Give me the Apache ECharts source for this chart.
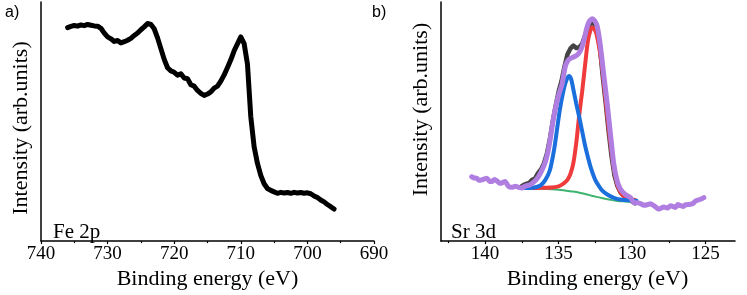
<!DOCTYPE html>
<html><head><meta charset="utf-8">
<script src="https://cdn.jsdelivr.net/npm/echarts@6/dist/echarts.min.js"></script>
<style>html,body{margin:0;padding:0;background:#fff}#c{width:747px;height:295px}</style>
</head><body><div id="c"></div>
<script>
// ---- Panel a) Fe 2p ----
const feEnergy = [736.0,735.5,735.0,734.5,734.0,733.5,733.0,732.5,732.0,731.5,731.0,730.5,730.0,729.5,729.0,728.5,728.0,727.5,727.0,726.5,726.0,725.5,725.0,724.5,724.0,723.5,723.0,722.5,722.0,721.5,721.0,720.5,720.0,719.5,719.0,718.5,718.0,717.5,717.0,716.5,716.0,715.5,715.0,714.5,714.0,713.5,713.0,712.5,712.0,711.5,711.0,710.5,710.0,709.5,709.0,708.5,708.0,707.5,707.0,706.5,706.0,705.5,705.0,704.5,704.0,703.5,703.0,702.5,702.0,701.5,701.0,700.5,700.0,699.5,699.0,698.5,698.0,697.5,697.0,696.5,696.0];
const feIntensity = [89.3,89.8,90.2,89.9,90.4,90.1,90.6,90.3,90.0,89.9,89.0,87.0,85.4,84.6,83.5,83.9,82.9,83.4,84.0,84.8,86.0,87.0,88.4,89.6,91.0,90.6,88.8,85.0,80.5,76.0,72.5,71.2,70.6,69.4,70.0,68.2,67.9,65.4,64.8,63.0,61.8,60.9,61.5,62.4,64.0,64.8,66.9,69.5,72.6,75.8,79.6,82.5,85.4,82.6,74.0,52.0,39.5,32.5,27.5,24.0,22.0,21.2,20.6,20.0,20.4,20.1,20.3,20.0,20.4,20.1,20.3,20.0,20.2,19.8,18.9,18.2,17.2,16.4,15.3,14.4,13.4];

// ---- Panel b) Sr 3d ----
const srRawEnergy = [137.6,137.4,137.2,137.0,136.8,136.6,136.4,136.2,136.0,135.8,135.6,135.4,135.2,135.0,134.8,134.6,134.4,134.2,134.0,133.8,133.6,133.4,133.2,133.0,132.8,132.6,132.4,132.2,132.0,131.8,131.6,131.4,131.2,131.0,130.8,130.6,130.4,130.2,130.0,129.8];
const srRaw = [22.6,23.4,23.9,24.3,25.6,26.2,28.4,30.0,32.5,36.5,42.5,50.0,56.5,62.5,67.0,73.0,78.0,80.5,81.8,80.8,81.0,82.5,86.0,89.5,91.2,91.0,88.0,81.5,69.0,58.0,46.0,35.5,27.5,23.0,20.5,19.2,18.3,17.6,16.6,15.8];

const srEnvEnergy = [140.91,140.74,140.57,140.40,140.23,140.05,139.88,139.71,139.54,139.37,139.20,139.03,138.86,138.64,138.41,138.18,137.95,137.73,137.50,137.27,136.93,136.65,136.37,136.15,135.91,135.74,135.57,135.40,135.22,135.00,134.77,134.55,134.37,134.20,133.98,133.75,133.58,133.41,133.24,133.07,132.90,132.72,132.55,132.38,132.16,131.93,131.70,131.48,131.25,131.02,130.80,130.45,130.11,129.89,129.66,129.43,129.20,128.97,128.75,128.52,128.18,127.84,127.60,127.38,127.05,126.90,126.70,126.50,126.36,126.02,125.85,125.68,125.34,125.12];
const srEnvelope = [26.9,26.4,26.3,25.4,25.6,26.0,26.3,25.1,24.9,25.8,25.2,24.2,24.3,24.9,22.9,22.5,22.9,22.5,22.2,23.0,23.6,24.9,27.0,29.5,33.0,37.0,42.6,49.5,55.5,61.0,65.6,73.0,75.5,76.4,77.0,77.8,79.0,81.2,85.0,89.3,92.0,93.0,92.2,90.0,81.8,69.6,57.7,45.1,32.4,25.2,21.8,19.4,18.2,16.1,16.0,15.7,15.0,15.2,15.6,14.8,13.4,14.3,13.8,14.8,14.1,15.3,14.8,14.5,15.2,15.4,15.8,16.8,17.5,18.2];

const sr52Energy = [137.6,137.0,136.5,136.0,135.5,135.0,134.8,134.6,134.4,134.2,134.0,133.8,133.6,133.4,133.2,133.0,132.85,132.72,132.55,132.4,132.2,132.0,131.8,131.6,131.4,131.2,131.0,130.8,130.6,130.4,130.2,130.0,129.8];
const sr52 = [22.3,22.2,22.2,22.3,22.4,22.9,23.5,24.4,25.6,28.0,32.5,41.0,52.5,62.5,73.5,84.0,87.8,89.3,88.5,86.0,79.5,70.5,59.0,47.5,37.5,29.0,23.5,20.5,19.0,18.2,17.7,17.4,17.2];

const sr32Energy = [137.6,137.0,136.5,136.2,135.9,135.6,135.3,135.1,134.9,134.7,134.55,134.4,134.3,134.15,134.0,133.8,133.6,133.4,133.2,133.0,132.8,132.5,132.2,132.0,131.6,131.2,130.7,130.1,129.7];
const sr32 = [22.2,22.2,22.6,23.4,25.6,29.5,38.5,47.0,55.5,62.0,65.8,68.3,69.0,67.8,63.5,57.5,52.0,46.0,40.0,35.0,30.5,25.5,22.5,21.0,19.2,18.0,17.3,17.0,16.9];

const bgEnergy = [137.6,137.0,136.5,136.0,135.5,135.0,134.5,134.0,133.5,133.0,132.5,132.0,131.5,131.0,130.5,130.0,129.7];
const background = [22.0,22.0,21.9,21.8,21.7,21.5,21.1,20.7,20.1,19.4,18.6,17.9,17.3,16.8,16.6,16.5,16.5];

// tick labels
const srMajorTicks = [125,130,135,140];
const srMinorTicks = [127.5,132.5,137.5,142.5];

const zip = (a, b) => a.map((x, i) => [x, b[i]]);
const serif = '"Liberation Serif","Times New Roman",serif';
const sans = '"Liberation Sans",Arial,sans-serif';

const chart = echarts.init(document.getElementById('c'), null, {renderer: 'canvas'});

const axLine = {show: true, lineStyle: {color: '#000', width: 1.5}};
const tickStyle = {color: '#000', width: 1.2};
const labelStyle = {color: '#000', fontFamily: serif, fontSize: 19, margin: 3};
const nameStyle = {color: '#000', fontFamily: serif, fontSize: 22};

const option = {
  animation: false,
  backgroundColor: '#fff',
  grid: [
    {left: 41, width: 333, top: 2, height: 246},
    {left: 441, width: 294, top: 2, height: 246}
  ],
  xAxis: [
    {
      gridIndex: 0, type: 'value', min: 690, max: 740, interval: 10, inverse: true,
      axisLine: axLine,
      axisTick: {show: true, length: 3, lineStyle: tickStyle},
      minorTick: {show: true, splitNumber: 2, length: 2, lineStyle: tickStyle},
      axisLabel: labelStyle,
      splitLine: {show: false},
      name: 'Binding energy (eV)', nameLocation: 'middle', nameGap: 17,
      nameTextStyle: nameStyle
    },
    {
      gridIndex: 1, type: 'value', min: 123, max: 143, inverse: true,
      axisLine: axLine,
      axisTick: {show: true, length: 3, lineStyle: tickStyle, customValues: srMajorTicks},
      axisLabel: Object.assign({customValues: srMajorTicks}, labelStyle),
      splitLine: {show: false},
      name: 'Binding energy (eV)', nameLocation: 'middle', nameGap: 17,
      nameTextStyle: Object.assign({padding: [0, 0, 0, 19]}, nameStyle)
    },
    {
      gridIndex: 1, type: 'value', min: 123, max: 143, inverse: true, position: 'bottom', offset: 0,
      axisLine: {show: false},
      axisTick: {show: true, length: 2, lineStyle: tickStyle, customValues: srMinorTicks},
      axisLabel: {show: false},
      splitLine: {show: false}
    }
  ],
  yAxis: [
    {
      gridIndex: 0, type: 'value', min: 0, max: 100,
      axisLine: axLine, axisTick: {show: false}, axisLabel: {show: false}, splitLine: {show: false},
      name: 'Intensity (arb.units)', nameLocation: 'middle', nameGap: 9,
      nameTextStyle: Object.assign({padding: [0, 13, 0, 0]}, nameStyle)
    },
    {
      gridIndex: 1, type: 'value', min: 0, max: 100,
      axisLine: axLine, axisTick: {show: false}, axisLabel: {show: false}, splitLine: {show: false},
      name: 'Intensity (arb.units)', nameLocation: 'middle', nameGap: 9,
      nameTextStyle: Object.assign({padding: [0, 0, 0, 24]}, nameStyle)
    }
  ],
  series: [
    {type: 'line', name: 'Fe 2p', xAxisIndex: 0, yAxisIndex: 0, data: zip(feEnergy, feIntensity),
     showSymbol: false, lineStyle: {color: '#000', width: 5, cap: 'round', join: 'round'}, z: 2},
    {type: 'line', name: 'raw', xAxisIndex: 1, yAxisIndex: 1, data: zip(srRawEnergy, srRaw),
     showSymbol: false, lineStyle: {color: '#444', width: 4.5, cap: 'round', join: 'round'}, z: 2},
    {type: 'line', name: 'bg', xAxisIndex: 1, yAxisIndex: 1, data: zip(bgEnergy, background),
     showSymbol: false, smooth: 0.3, lineStyle: {color: '#3cb46e', width: 2}, z: 3},
    {type: 'line', name: '3d5/2', xAxisIndex: 1, yAxisIndex: 1, data: zip(sr52Energy, sr52),
     showSymbol: false, smooth: 0.3, lineStyle: {color: '#ef3b3b', width: 4, cap: 'round'}, z: 4},
    {type: 'line', name: '3d3/2', xAxisIndex: 1, yAxisIndex: 1, data: zip(sr32Energy, sr32),
     showSymbol: false, smooth: 0.3, lineStyle: {color: '#1b6fdc', width: 4, cap: 'round'}, z: 5},
    {type: 'line', name: 'envelope', xAxisIndex: 1, yAxisIndex: 1, data: zip(srEnvEnergy, srEnvelope),
     showSymbol: false, smooth: 0.2, lineStyle: {color: '#b07de0', width: 5, cap: 'round', join: 'round'}, z: 6}
  ],
  graphic: [
    {type: 'text', left: 5, top: 5, style: {text: 'a)', font: '16px ' + sans, fill: '#000'}},
    {type: 'text', left: 372, top: 5, style: {text: 'b)', font: '16px ' + sans, fill: '#000'}},
    {type: 'text', left: 53, top: 222, style: {text: 'Fe 2p', font: '21px ' + serif, fill: '#000'}},
    {type: 'text', left: 451, top: 222, style: {text: 'Sr 3d', font: '21px ' + serif, fill: '#000'}}
  ]
};
chart.setOption(option);
</script>
</body></html>
